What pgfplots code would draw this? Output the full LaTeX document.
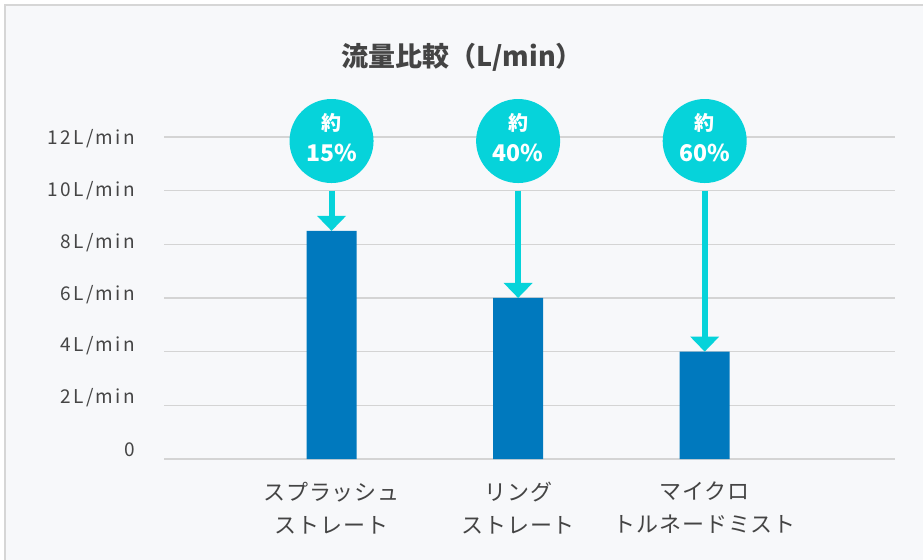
\documentclass[border=0pt]{standalone}
\usepackage{fontspec}
\usepackage{pgfplots}
\pgfplotsset{compat=1.18}
\usetikzlibrary{arrows.meta}
\setmainfont{Noto Sans CJK JP}
\newfontfamily\tickfont[LetterSpace=12]{Noto Sans CJK JP}
\newfontfamily\catfont[LetterSpace=4]{Noto Sans CJK JP}

\definecolor{bgcol}{HTML}{F7F8FA}
\definecolor{framecol}{HTML}{D6D6D6}
\definecolor{gridcol}{HTML}{D4D4D4}
\definecolor{barcol}{HTML}{0079BE}
\definecolor{badge}{HTML}{06D3DA}
\definecolor{ticktext}{HTML}{454545}
\definecolor{labeltext}{HTML}{444444}

\begin{document}
\begin{tikzpicture}
\useasboundingbox (0bp,0bp) rectangle (923bp,560bp);
\fill[white] (0bp,0bp) rectangle (923bp,560bp);
\fill[bgcol] (5bp,0bp) rectangle (923bp,555bp);
\draw[framecol, line width=1.5bp] (5bp,0bp) -- (5bp,555bp) -- (923bp,555bp);
\node[font=\bfseries\fontsize{27bp}{30bp}\selectfont, text=labeltext] at (462bp,503bp) {流量比較（L/min）};

\begin{axis}[
  at={(164bp,101bp)}, anchor=south west, scale only axis,
  width=731bp, height=322bp,
  xmin=-0.898, xmax=3.02, ymin=0, ymax=12,
  axis line style={draw=none},
  tick style={draw=none}, major tick length=0pt,
  ymajorgrids, grid style={gridcol, line width=1.2bp},
  ytick={0,2,4,6,8,10,12},
  yticklabels={0,2L/min,4L/min,6L/min,8L/min,10L/min,12L/min},
  yticklabel style={font=\tickfont\fontsize{19bp}{22bp}\selectfont, text=ticktext,
    inner sep=0pt, anchor=east, xshift=-29bp, yshift={(6-\ticknum)*1.9bp-2bp}},
  xtick={0,1,2},
  xticklabels={{スプラッシュ\\ストレート},{リング\\ストレート},{マイクロ\\トルネードミスト}},
  xticklabel style={align=center, font=\catfont\fontsize{22bp}{33bp}\selectfont, text=labeltext,
    inner sep=0pt, anchor=north, yshift=-23bp},
  clip=false,
]
\addplot[ybar, bar width=50bp, fill=barcol, draw=none] coordinates {(0,8.5) (1,6) (2,4)};

\draw[badge, line width=6bp, -{Triangle[width=28bp,length=15bp]}] (axis cs:0,10) -- (axis cs:0,8.5);
\draw[badge, line width=6bp, -{Triangle[width=28bp,length=15bp]}] (axis cs:1,10) -- (axis cs:1,6);
\draw[badge, line width=6bp, -{Triangle[width=28bp,length=15bp]}] (axis cs:2,10) -- (axis cs:2,4);

\fill[badge] (axis cs:0,11.85) circle[radius=42bp];
\fill[badge] (axis cs:1,11.85) circle[radius=42bp];
\fill[badge] (axis cs:2,11.85) circle[radius=42bp];
\node[text=white, font=\bfseries\fontsize{20bp}{24bp}\selectfont, anchor=base] at (axis cs:0,12.26) {約};
\node[text=white, font=\bfseries\fontsize{20bp}{24bp}\selectfont, anchor=base] at (axis cs:1,12.26) {約};
\node[text=white, font=\bfseries\fontsize{20bp}{24bp}\selectfont, anchor=base] at (axis cs:2,12.26) {約};
\node[text=white, font=\bfseries\fontsize{23bp}{26bp}\selectfont, anchor=base] at (axis cs:0,11.09) {15\%};
\node[text=white, font=\bfseries\fontsize{23bp}{26bp}\selectfont, anchor=base] at (axis cs:1,11.09) {40\%};
\node[text=white, font=\bfseries\fontsize{23bp}{26bp}\selectfont, anchor=base] at (axis cs:2,11.09) {60\%};
\end{axis}
\end{tikzpicture}
\end{document}
